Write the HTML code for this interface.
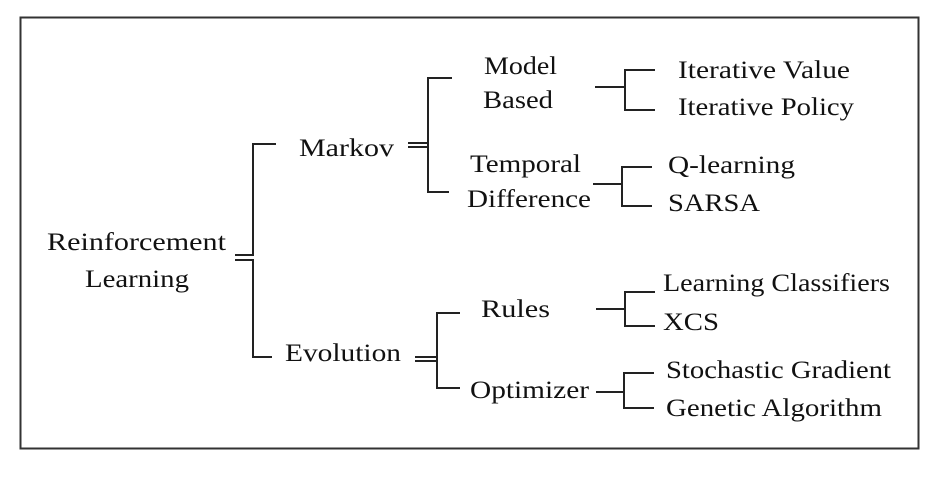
<!DOCTYPE html>
<html><head><style>html,body{margin:0;padding:0;background:#fff;}</style></head>
<body>
<svg width="938" height="472" viewBox="0 0 938 472" xmlns="http://www.w3.org/2000/svg">
<rect x="20.5" y="17.5" width="898" height="431" fill="#fff" stroke="#333" stroke-width="2"/>
<g stroke="#222" stroke-width="2" fill="none">
<polyline points="276,144 253,144 253,255 235,255"/>
<polyline points="235,260 253,260 253,357 272,357"/>
<line x1="408" y1="143" x2="428" y2="143"/>
<line x1="408" y1="147" x2="428" y2="147"/>
<polyline points="452,78 428,78 428,192 449,192"/>
<line x1="415" y1="357" x2="437" y2="357"/>
<line x1="415" y1="361" x2="437" y2="361"/>
<polyline points="460,313 437,313 437,388 460,388"/>
<line x1="595" y1="87" x2="625" y2="87"/>
<polyline points="655,70 625,70 625,110 655,110"/>
<line x1="593" y1="184" x2="622" y2="184"/>
<polyline points="652,167 622,167 622,206 652,206"/>
<line x1="596" y1="309" x2="625" y2="309"/>
<polyline points="655,292 625,292 625,326 655,326"/>
<line x1="596" y1="392" x2="624" y2="392"/>
<polyline points="654,373 624,373 624,408 654,408"/>
</g>
<g font-family="'Liberation Serif', serif" font-size="25.5" fill="#111">
<text x="47" y="250" textLength="179" lengthAdjust="spacingAndGlyphs">Reinforcement</text>
<text x="85" y="287" textLength="104" lengthAdjust="spacingAndGlyphs">Learning</text>
<text x="299" y="156" textLength="95" lengthAdjust="spacingAndGlyphs">Markov</text>
<text x="484" y="74" textLength="73" lengthAdjust="spacingAndGlyphs">Model</text>
<text x="483" y="108" textLength="70" lengthAdjust="spacingAndGlyphs">Based</text>
<text x="678" y="78" textLength="172" lengthAdjust="spacingAndGlyphs">Iterative Value</text>
<text x="678" y="115" textLength="176" lengthAdjust="spacingAndGlyphs">Iterative Policy</text>
<text x="470" y="172" textLength="111" lengthAdjust="spacingAndGlyphs">Temporal</text>
<text x="467" y="207" textLength="124" lengthAdjust="spacingAndGlyphs">Difference</text>
<text x="668" y="173" textLength="127" lengthAdjust="spacingAndGlyphs">Q-learning</text>
<text x="668" y="211" textLength="92" lengthAdjust="spacingAndGlyphs">SARSA</text>
<text x="285" y="361" textLength="116" lengthAdjust="spacingAndGlyphs">Evolution</text>
<text x="481" y="317" textLength="69" lengthAdjust="spacingAndGlyphs">Rules</text>
<text x="470" y="398" textLength="119" lengthAdjust="spacingAndGlyphs">Optimizer</text>
<text x="663" y="291" textLength="227" lengthAdjust="spacingAndGlyphs">Learning Classifiers</text>
<text x="663" y="330" textLength="56" lengthAdjust="spacingAndGlyphs">XCS</text>
<text x="666" y="378" textLength="225" lengthAdjust="spacingAndGlyphs">Stochastic Gradient</text>
<text x="666" y="416" textLength="216" lengthAdjust="spacingAndGlyphs">Genetic Algorithm</text>
</g>
</svg>
</body></html>
